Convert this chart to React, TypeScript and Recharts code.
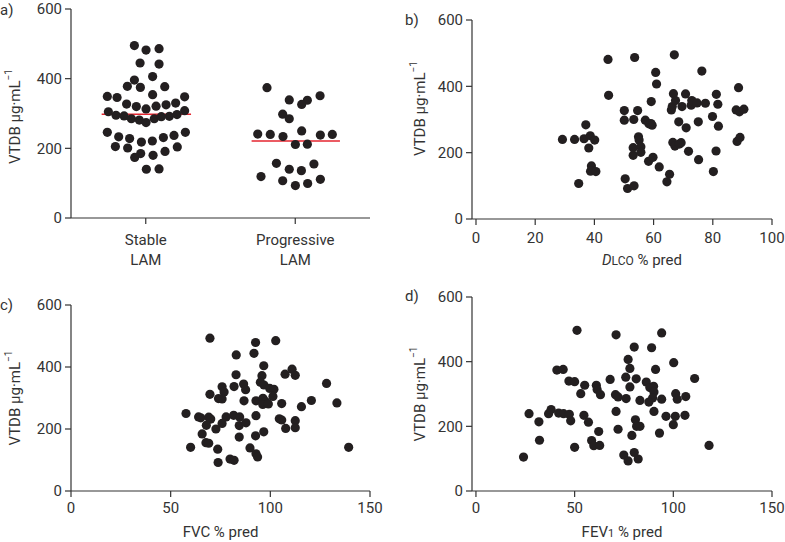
import React from 'react';
import { ScatterChart, Scatter, XAxis, YAxis, ReferenceLine, Label } from 'recharts';

// Panel a: VTDB by group (beeswarm positions)
const stableX = [0.424,0.502,0.589,0.462,0.589,0.546,0.424,0.377,0.464,0.627,0.546,0.243,0.308,0.760,0.372,0.437,0.502,0.569,0.636,0.700,0.250,0.301,0.355,0.404,0.457,0.502,0.557,0.604,0.658,0.709,0.760,0.243,0.319,0.392,0.471,0.544,0.618,0.689,0.765,0.297,0.379,0.466,0.426,0.549,0.629,0.711,0.504,0.589];
const stableY = [495,482,486,445,442,406,396,378,375,377,354,349,346,348,327,320,313,321,325,330,305,295,293,285,281,274,285,291,292,297,308,246,233,228,218,221,231,237,246,205,201,185,174,180,191,204,140,141];
const progX = [1.311,1.460,1.581,1.543,1.666,1.416,1.460,1.249,1.333,1.418,1.543,1.668,1.748,1.501,1.581,1.374,1.460,1.541,1.625,1.271,1.416,1.501,1.583,1.668];
const progY = [374,339,338,326,351,298,285,241,240,234,250,238,240,211,212,157,140,136,155,119,107,93,99,111];
const groupLabels = ['Stable', 'Progressive'];
const groupTicks = [0.5, 1.5];
const medianStable = { from: 0.205, to: 0.803, value: 298 };
const medianProg = { from: 1.208, to: 1.799, value: 221 };

// Panel b: DLCO % pred vs VTDB
const dlcoX = [29.2,33.3,34.7,37.1,36.5,38.6,38.1,40.1,39.0,38.7,40.5,44.6,44.8,50.1,50.1,50.4,51.2,53.4,53.6,53.3,54.6,53.1,53.1,54.9,55.1,55.7,55.7,57.2,58.4,59.2,59.1,59.5,58.3,59.8,60.7,61.0,61.9,65.4,64.5,66.0,66.3,66.7,67.4,67.0,66.5,67.2,68.5,69.6,70.8,69.3,68.7,71.0,71.8,72.7,72.9,75.1,74.7,75.2,76.3,77.5,79.9,80.2,81.2,81.7,81.9,81.1,88.7,87.9,89.0,90.5,88.2,89.2];
const dlcoY = [240,240,107,284,242,251,214,238,160,144,143,481,373,327,298,121,92,100,487,300,327,215,192,248,238,218,201,298,287,354,288,283,174,186,442,407,157,135,112,329,339,378,357,495,231,220,293,339,377,230,226,275,204,343,357,293,350,179,446,349,309,143,376,346,280,205,396,329,323,331,234,246];

// Panel c: FVC % pred vs VTDB
const fvcX = [69.7,82.9,92.6,91.8,102.7,96.7,82.8,95.8,95.0,96.8,86.6,87.6,81.8,75.8,76.8,75.8,74.0,69.7,99.7,101.8,101.3,107.4,110.9,112.5,128.2,133.4,120.6,115.6,105.7,86.8,92.8,96.3,97.7,96.2,99.0,57.7,64.0,65.1,69.1,70.1,67.9,77.8,75.8,72.7,81.6,84.6,84.4,87.8,92.8,65.8,67.7,69.1,60.0,73.6,73.8,79.8,81.8,84.4,89.8,92.6,92.8,93.6,96.7,104.5,105.7,107.7,112.5,112.5,139.3];
const fvcY = [493,439,479,444,485,404,375,372,351,342,345,327,337,336,319,297,298,312,331,328,305,377,393,373,347,284,292,272,282,291,291,299,288,279,281,250,239,236,238,232,212,239,218,200,244,239,211,220,243,184,156,154,141,135,92,103,99,174,139,178,120,110,191,233,229,202,227,204,141];

// Panel d: FEV1 % pred vs VTDB
const fev1X = [51.2,71.0,94.1,80.2,89.0,77.1,78.0,100.2,91.0,41.0,44.2,47.1,50.0,55.1,68.0,75.9,81.2,78.0,61.0,61.4,63.1,53.1,70.7,72.0,76.1,86.3,88.1,90.0,90.2,89.5,87.6,83.1,94.1,101.2,102.0,106.3,110.8,26.9,31.9,32.2,24.1,36.8,38.1,41.9,44.4,47.3,48.0,54.7,57.0,62.2,58.6,59.7,62.7,50.0,71.0,72.0,79.0,80.8,81.4,83.1,90.2,93.0,96.3,100.0,101.0,105.9,74.9,77.1,80.2,82.2,118.1];
const fev1Y = [497,483,489,445,443,407,379,397,376,374,376,340,338,327,345,352,347,322,327,314,298,301,298,291,286,337,320,324,306,288,275,280,284,301,284,292,348,239,214,157,105,239,252,241,239,237,217,234,213,184,156,140,141,135,246,191,172,220,200,200,246,179,231,205,231,234,111,93,119,99,141];

const yTicks = [0, 200, 400, 600];

const zip = (xs: number[], ys: number[]) => xs.map((x, i) => ({ x, y: ys[i] }));

const FONT = 'Roboto, "DejaVu Sans", sans-serif';
const TXT = '#333';
const AX = '#333';
const DOT = '#231f20';

const Dot = (p: any) => <circle cx={p.cx} cy={p.cy} r={4.6} fill={DOT} />;

const yLabel = (dx: number, dyc: number) => (props: any) => {
  const vb = props.viewBox || {};
  const cx = (vb.x || 0) + dx;
  const cy = (vb.y || 0) + (vb.height || 0) / 2 + dyc;
  return (
    <text x={cx} y={cy} transform={`rotate(-90, ${cx}, ${cy})`} textAnchor="middle" dominantBaseline="central" fontFamily={FONT} fontSize={15} fill={TXT}>
      VTDB μg·mL<tspan fontSize={10} dy={-7}>−1</tspan>
    </text>
  );
};

const xLabel = (content: React.ReactNode, dxc: number) => (props: any) => {
  const vb = props.viewBox || {};
  const cx = (vb.x || 0) + (vb.width || 0) / 2 + dxc;
  const cy = (vb.y || 0) + 46;
  return (
    <text x={cx} y={cy} textAnchor="middle" fontFamily={FONT} fontSize={15} fill={TXT}>
      {content}
    </text>
  );
};

const GroupTick = (props: any) => {
  const { x, y, payload } = props;
  const idx = groupTicks.indexOf(payload.value);
  return (
    <g>
      <text x={x} y={y + 19} textAnchor="middle" fontFamily={FONT} fontSize={15} fill={TXT}>{groupLabels[idx]}</text>
      <text x={x} y={y + 39} textAnchor="middle" fontFamily={FONT} fontSize={15} fill={TXT}>LAM</text>
    </g>
  );
};

const tickStyle = { fontFamily: FONT, fontSize: 15, fill: TXT };
const axisProps = { stroke: AX, strokeWidth: 1.2, tickLine: { stroke: AX, strokeWidth: 1.2 }, tickSize: 6 };

const PanelLetter = ({ x, y, t }: { x: number; y: number; t: string }) => (
  <div style={{ position: 'absolute', left: x, top: y, fontFamily: FONT, fontSize: 15, color: TXT, lineHeight: '15px' }}>{t}</div>
);

export default function App() {
  return (
    <div style={{ position: 'absolute', left: 0, top: 0, width: 785, height: 542, background: '#fff', overflow: 'hidden' }}>
      {/* a */}
      <div style={{ position: 'absolute', left: 0, top: 0 }}>
        <ScatterChart width={390} height={270} margin={{ top: 9, right: 20, bottom: 0, left: 0 }}>
          <XAxis type="number" dataKey="x" domain={[0, 2]} ticks={groupTicks} tick={<GroupTick />} height={52} {...axisProps} />
          <YAxis type="number" dataKey="y" domain={[0, 600]} ticks={yTicks} width={71} tick={tickStyle} tickMargin={3} {...axisProps}>
            <Label content={yLabel(15, 3)} />
          </YAxis>
          <Scatter data={zip(stableX, stableY)} shape={Dot} isAnimationActive={false} />
          <Scatter data={zip(progX, progY)} shape={Dot} isAnimationActive={false} />
          <ReferenceLine segment={[{ x: medianStable.from, y: medianStable.value }, { x: medianStable.to, y: medianStable.value }]} stroke="#e4252f" strokeWidth={1.6} />
          <ReferenceLine segment={[{ x: medianProg.from, y: medianProg.value }, { x: medianProg.to, y: medianProg.value }]} stroke="#e4252f" strokeWidth={1.6} />
        </ScatterChart>
      </div>
      {/* b */}
      <div style={{ position: 'absolute', left: 390, top: 0 }}>
        <ScatterChart width={395} height={270} margin={{ top: 20, right: 13, bottom: 0, left: 0 }}>
          <XAxis type="number" dataKey="x" domain={[-1.35, 100]} ticks={[0, 20, 40, 60, 80, 100]} height={51} tick={tickStyle} tickMargin={7} {...axisProps}>
            <Label content={xLabel(<><tspan fontStyle="italic">D</tspan><tspan fontSize={12}>LCO</tspan> % pred</>, 20)} />
          </XAxis>
          <YAxis type="number" dataKey="y" domain={[0, 600]} ticks={yTicks} width={82} tick={tickStyle} tickMargin={3} {...axisProps}>
            <Label content={yLabel(30, -11)} />
          </YAxis>
          <Scatter data={zip(dlcoX, dlcoY)} shape={Dot} isAnimationActive={false} />
        </ScatterChart>
      </div>
      {/* c */}
      <div style={{ position: 'absolute', left: 0, top: 270 }}>
        <ScatterChart width={390} height={272} margin={{ top: 35, right: 20, bottom: 0, left: 0 }}>
          <XAxis type="number" dataKey="x" domain={[0, 150]} ticks={[0, 50, 100, 150]} height={51} tick={tickStyle} tickMargin={5} {...axisProps}>
            <Label content={xLabel('FVC % pred', 0)} />
          </XAxis>
          <YAxis type="number" dataKey="y" domain={[0, 600]} ticks={yTicks} width={71} tick={tickStyle} tickMargin={3} {...axisProps}>
            <Label content={yLabel(15, 0)} />
          </YAxis>
          <Scatter data={zip(fvcX, fvcY)} shape={Dot} isAnimationActive={false} />
        </ScatterChart>
      </div>
      {/* d */}
      <div style={{ position: 'absolute', left: 390, top: 270 }}>
        <ScatterChart width={395} height={272} margin={{ top: 27, right: 13, bottom: 0, left: 0 }}>
          <XAxis type="number" dataKey="x" domain={[-2, 150]} ticks={[0, 50, 100, 150]} height={51} tick={tickStyle} tickMargin={5} {...axisProps}>
            <Label content={xLabel(<>FEV<tspan fontSize={11}>1</tspan> % pred</>, 0)} />
          </XAxis>
          <YAxis type="number" dataKey="y" domain={[0, 600]} ticks={yTicks} width={82} tick={tickStyle} tickMargin={3} {...axisProps}>
            <Label content={yLabel(30, 0)} />
          </YAxis>
          <Scatter data={zip(fev1X, fev1Y)} shape={Dot} isAnimationActive={false} />
        </ScatterChart>
      </div>
      <PanelLetter x={0} y={3} t="a)" />
      <PanelLetter x={405} y={13} t="b)" />
      <PanelLetter x={0} y={298} t="c)" />
      <PanelLetter x={405} y={289} t="d)" />
    </div>
  );
}
